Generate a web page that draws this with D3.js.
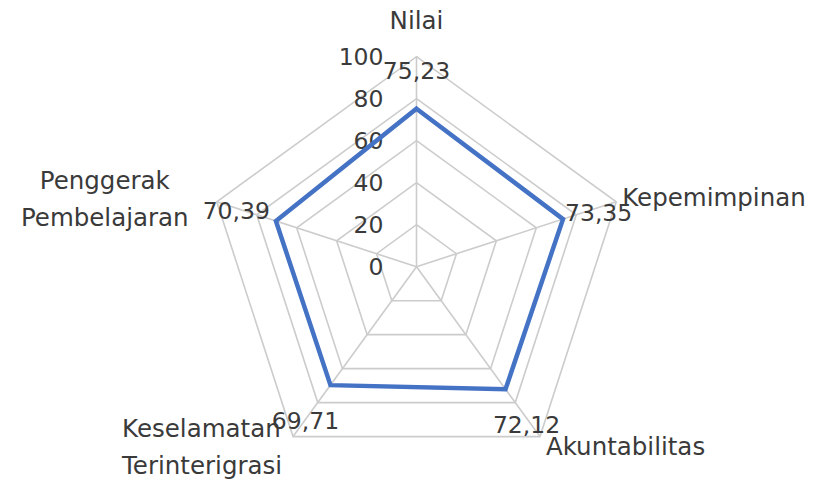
<!DOCTYPE html>
<html>
<head>
<meta charset="utf-8">
<script src="https://cdn.jsdelivr.net/npm/d3@7"></script>
<style>
  html, body { margin: 0; padding: 0; background: #ffffff; }
  svg text { font-family: "DejaVu Sans", sans-serif; fill: #3a3a3a; }
</style>
</head>
<body>
<svg id="chart" width="825" height="480"></svg>
<script>
// Radar chart data
const categories = ["Nilai", "Kepemimpinan", "Akuntabilitas", "Keselamatan Terinterigrasi", "Penggerak Pembelajaran"];
const categoryLines = [["Nilai"], ["Kepemimpinan"], ["Akuntabilitas"], ["Keselamatan", "Terinterigrasi"], ["Penggerak", "Pembelajaran"]];
const values = [75.23, 73.35, 72.12, 69.71, 70.39];
const valueLabels = ["75,23", "73,35", "72,12", "69,71", "70,39"];
const ticks = [0, 20, 40, 60, 80, 100];

// Layout
const cx = 416.5, cy = 266.7, R = 210;
const numSize = 23.5, catSize = 24.5;
// label placement per axis: [dx, dy, anchor] relative to the data vertex
const valueLabelOffset = [[0, -38, "middle"], [2, -7, "start"], [21, 35, "middle"], [-25, 35, "middle"], [-6, -10, "end"]];
// category label placement relative to the outer vertex
const catLabelOffset = [[0, -37, "middle"], [6, -5, "start"], [6, 10, "start"], [-171, -8, "start"], [-112, -22, "middle"]];

const svg = d3.select("#chart");
const r = d3.scaleLinear().domain([0, 100]).range([0, R]);
const angle = d3.scaleLinear().domain([0, categories.length]).range([0, 2 * Math.PI]);
const px = (i, v) => cx + r(v) * Math.sin(angle(i));
const py = (i, v) => cy - r(v) * Math.cos(angle(i));
const idx = d3.range(categories.length);

// grid rings
const ring = d3.line();
svg.append("g").selectAll("path").data(ticks.slice(1)).join("path")
  .attr("d", t => ring(idx.map(i => [px(i, t), py(i, t)])) + "Z")
  .attr("fill", "none").attr("stroke", "#cccccc").attr("stroke-width", 1.6);

// spokes
svg.append("g").selectAll("line").data(idx).join("line")
  .attr("x1", cx).attr("y1", cy)
  .attr("x2", i => px(i, 100)).attr("y2", i => py(i, 100))
  .attr("stroke", "#cccccc").attr("stroke-width", 1.6);

// tick labels
svg.append("g").selectAll("text").data(ticks).join("text")
  .attr("x", cx - 33).attr("y", t => cy - r(t))
  .attr("dy", "0.36em").attr("text-anchor", "end")
  .attr("font-size", numSize)
  .text(t => t);

// series outline
svg.append("path")
  .attr("d", ring(idx.map(i => [px(i, values[i]), py(i, values[i])])) + "Z")
  .attr("fill", "none").attr("stroke", "#4472c4").attr("stroke-width", 4.5)
  .attr("stroke-linejoin", "miter");

// value labels
svg.append("g").selectAll("text").data(idx).join("text")
  .attr("x", i => px(i, values[i]) + valueLabelOffset[i][0])
  .attr("y", i => py(i, values[i]) + valueLabelOffset[i][1])
  .attr("dy", "0.36em")
  .attr("text-anchor", i => valueLabelOffset[i][2])
  .attr("font-size", numSize)
  .text(i => valueLabels[i]);

// category labels
const cat = svg.append("g").selectAll("text").data(idx).join("text")
  .attr("text-anchor", i => catLabelOffset[i][2])
  .attr("font-size", catSize);
cat.each(function (i) {
  const x = px(i, 100) + catLabelOffset[i][0];
  const y = py(i, 100) + catLabelOffset[i][1];
  d3.select(this).selectAll("tspan").data(categoryLines[i]).join("tspan")
    .attr("x", x).attr("y", (d, k) => y + k * 37)
    .attr("dy", "0.36em")
    .text(d => d);
});
</script>
</body>
</html>
